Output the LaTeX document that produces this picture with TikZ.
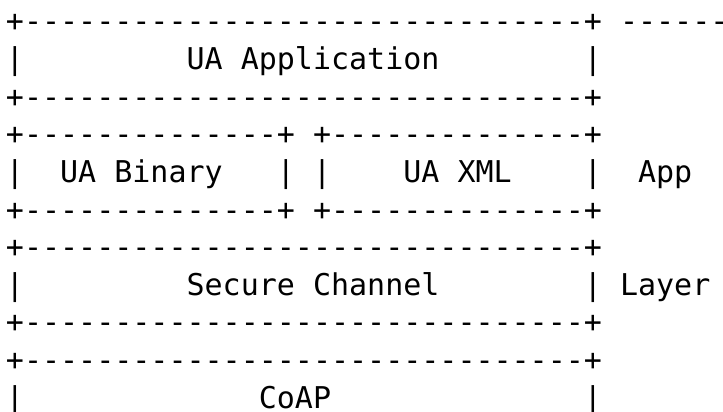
\documentclass[tikz,border=0pt]{standalone}
\usepackage{fontspec}
\setmonofont{DejaVu Sans Mono}

% one character cell of the drawing is 18.06pt wide, one row 37.6pt high
\tikzset{
  ascii/.style={anchor=base west, inner sep=0pt, outer sep=0pt,
    font=\ttfamily\fontsize{30}{36}\selectfont}
}
\def\fullbar{+-------------------------------+}
\def\halfbar{+--------------+}

\begin{document}
\begin{tikzpicture}[x=18.06pt, y=-37.6pt]
\useasboundingbox (-0.332,-0.851) rectangle (39.70,10.080);
\clip (-0.332,-0.851) rectangle (39.70,10.080);

% UA Application
\node[ascii] (apptop) at (0,0) {\fullbar};
\node[ascii] (bracket) at (34,0) {----------};
\node[ascii] (appleft) at (0,1) {|};
\node[ascii] (app) at (10,1) {UA Application};
\node[ascii] (appright) at (32,1) {|};
\node[ascii] (appbot) at (0,2) {\fullbar};

% UA Binary / UA XML
\node[ascii] (bintop) at (0,3) {\halfbar};
\node[ascii] (xmltop) at (17,3) {\halfbar};
\node[ascii] (binleft) at (0,4) {|};
\node[ascii] (bin) at (3,4) {UA Binary};
\node[ascii] (binright) at (15,4) {|};
\node[ascii] (xmlleft) at (17,4) {|};
\node[ascii] (xml) at (22,4) {UA XML};
\node[ascii] (xmlright) at (32,4) {|};
\node[ascii] (applabel) at (35,4) {App};
\node[ascii] (binbot) at (0,5) {\halfbar};
\node[ascii] (xmlbot) at (17,5) {\halfbar};

% Secure Channel
\node[ascii] (sctop) at (0,6) {\fullbar};
\node[ascii] (scleft) at (0,7) {|};
\node[ascii] (sc) at (10,7) {Secure Channel};
\node[ascii] (scright) at (32,7) {|};
\node[ascii] (layerlabel) at (34,7) {Layer};
\node[ascii] (scbot) at (0,8) {\fullbar};

% CoAP
\node[ascii] (coaptop) at (0,9) {\fullbar};
\node[ascii] (coapleft) at (0,10) {|};
\node[ascii] (coap) at (14,10) {CoAP};
\node[ascii] (coapright) at (32,10) {|};
\end{tikzpicture}
\end{document}
